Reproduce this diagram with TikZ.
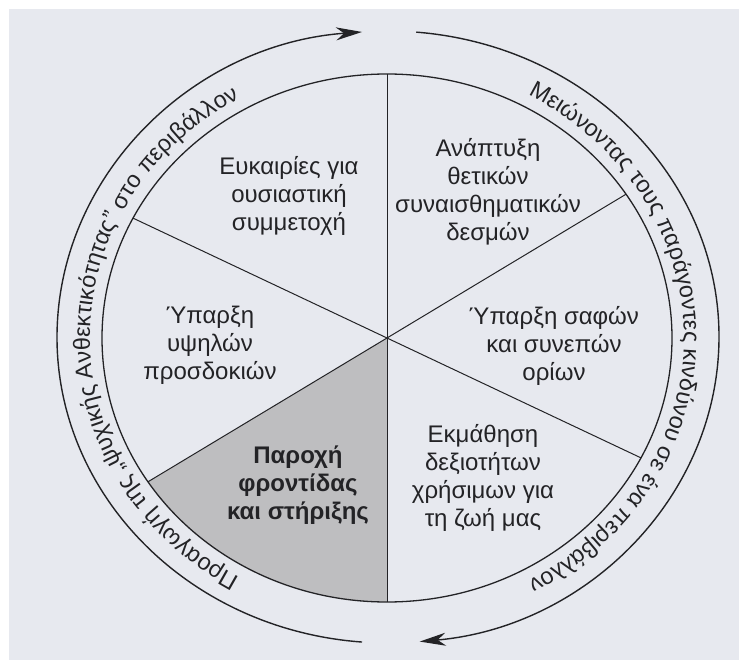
\documentclass[tikz,border=0pt]{standalone}
\usepackage{fontspec}
\setmainfont{Liberation Sans}
\usetikzlibrary{arrows.meta,decorations.text}
\definecolor{bgcol}{RGB}{231,233,239}
\definecolor{inkcol}{RGB}{35,35,38}
\definecolor{sectorcol}{RGB}{190,190,192}
\newcommand{\labfont}{\fontsize{24}{28}\selectfont}
\newcommand{\arcfont}{\fontsize{23.5}{28}\selectfont}
\tikzset{
  lab/.style={align=center, font=\labfont, text=inkcol, inner sep=0pt},
  labbold/.style={lab, font=\labfont\bfseries},
  rim/.style={draw=inkcol, line width=1.3pt},
  spoke/.style={draw=inkcol, line width=1.0pt},
  loop/.style={draw=inkcol, line width=1.4pt, -{Stealth[length=26pt,width=13pt,inset=8pt]}},
}
\begin{document}
\begin{tikzpicture}[x=1pt,y=-1pt]
\useasboundingbox (0,0) rectangle (739,660);
\fill[white] (0,0) rectangle (739,660);
\fill[bgcol] (9,9) rectangle (739,660);
\coordinate (c) at (387,338);
\coordinate (oc) at (388,337);
% spoke ends
\path[shift={(c)}]
  (90:285pt and 264pt) coordinate (s90)
  (33:285pt and 264pt) coordinate (s33)
  (333:285pt and 264pt) coordinate (s333)
  (270:285pt and 264pt) coordinate (s270)
  (213:285pt and 264pt) coordinate (s213)
  (153:285pt and 264pt) coordinate (s153);
% shaded sector
\fill[sectorcol, shift={(c)}] (0,0) -- (213:285pt and 264pt)
  arc[start angle=213, end angle=270, x radius=285pt, y radius=264pt] -- cycle;
% inner ellipse
\draw[rim] (c) ellipse [x radius=285pt, y radius=264pt];
% spokes
\draw[spoke] (s90) -- (s270);
\draw[spoke] (s33) -- (s213);
\draw[spoke] (s153) -- (s333);
% outer arrows
\draw[loop, shift={(oc)}] (265.5:331pt and 306pt)
  arc[start angle=265.5, end angle=94.5, x radius=331pt, y radius=306pt];
\draw[loop, shift={(oc)}] (85.1:331pt and 306pt)
  arc[start angle=85.1, end angle=-84.5, x radius=331pt, y radius=306pt];
% curved texts
\path[shift={(c)}, decorate, decoration={text along path, text align=center,
  text={|\arcfont\color{inkcol}|Προαγωγή της „ψυχικής Ανθεκτικότητας” στο περιβάλλον}}]
  (268:297pt and 276pt) arc[start angle=268, end angle=92, x radius=297pt, y radius=276pt];
\path[shift={(c)}, decorate, decoration={text along path, text align=center,
  text={|\arcfont\color{inkcol}|Μειώνοντας τους παράγοντες κινδύνου σε ένα περιβάλλον}}]
  (88:297pt and 276pt) arc[start angle=88, end angle=-88, x radius=297pt, y radius=276pt];
% sector labels
\node[lab] (t1) at (289,196) {Ευκαιρίες για\\ουσιαστική\\συμμετοχή};
\node[lab] (t2) at (488,192) {Ανάπτυξη\\θετικών\\συναισθηματικών\\δεσμών};
\node[lab] (t3) at (210,345) {Ύπαρξη\\υψηλών\\προσδοκιών};
\node[lab] (t4) at (554,346) {Ύπαρξη σαφών\\και συνεπών\\ορίων};
\node[lab] (t5) at (483,478) {Εκμάθηση\\δεξιοτήτων\\χρήσιμων για\\τη ζωή μας};
\node[labbold] (t6) at (298,485) {Παροχή\\φροντίδας\\και στήριξης};
\end{tikzpicture}
\end{document}
